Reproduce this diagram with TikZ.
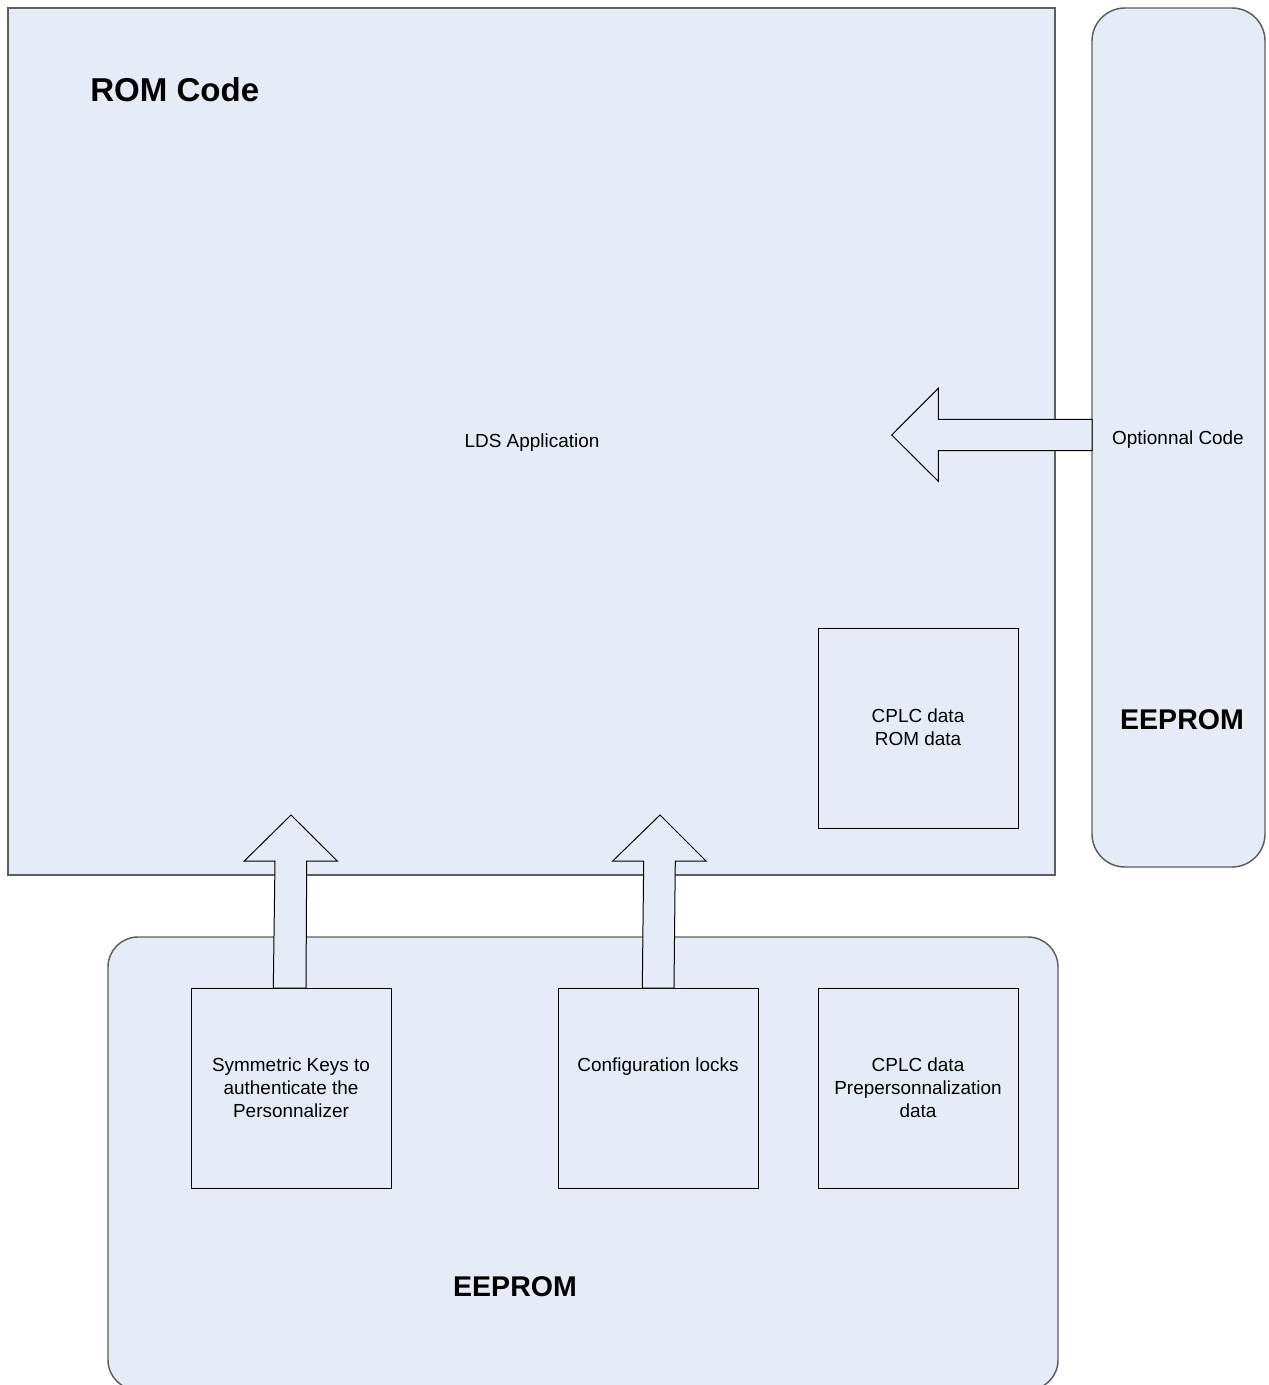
\documentclass[tikz,border=0pt]{standalone}
\usepackage{fontspec}
\setmainfont{Liberation Sans}
\definecolor{lightfill}{HTML}{E6ECF7}
\definecolor{boxgray}{HTML}{5E5E5E}
\begin{document}
\begin{tikzpicture}[x=0.75pt,y=-0.75pt,
  bigbox/.style={draw=boxgray, fill=lightfill, line width=1.1pt, inner sep=0pt},
  smallbox/.style={draw=black, fill=lightfill, line width=0.75pt, inner sep=0pt, minimum width=150pt, minimum height=150pt},
  blockarrow/.style={draw=black, fill=lightfill, line width=0.75pt, line join=miter},
  lbl/.style={font=\fontsize{14.2}{17.25}\selectfont, align=center, inner sep=0pt},
  titletext/.style={font=\fontsize{24.8}{29}\selectfont\bfseries, inner sep=0pt},
  eetext/.style={font=\fontsize{21.4}{25}\selectfont\bfseries, inner sep=0pt}]
\useasboundingbox (0,0) rectangle (1269,1385);
\clip (0,0) rectangle (1269,1385);
% main boxes
\node[bigbox, minimum width=785.25pt, minimum height=650.25pt] (rom) at (531.5,441.5) {};
\node[bigbox, rounded corners=24.75pt, minimum width=129.75pt, minimum height=644.25pt] (eeright) at (1178.5,437.5) {};
\node[bigbox, rounded corners=22.5pt, minimum width=712.5pt, minimum height=339.75pt] (eebottom) at (583,1163.5) {};
% small boxes
\node[smallbox] (cplcrom) at (918,728) {};
\node[smallbox] (sym) at (291,1088) {};
\node[smallbox] (conf) at (658,1088) {};
\node[smallbox] (cplcpre) at (918,1088) {};
% block arrows
\draw[blockarrow] (1092,419.3) -- (938.3,419.3) -- (938.3,388.3) -- (891.7,435) -- (938.3,481.3) -- (938.3,450.7) -- (1092,450.7) -- cycle;
\draw[blockarrow] (273.3,988) -- (275,861) -- (244.3,861) -- (291,815) -- (337.3,861) -- (306.7,861) -- (306,988) -- cycle;
\draw[blockarrow] (642.3,988) -- (643.7,861) -- (612.7,861) -- (660,815) -- (706,861) -- (675.3,861) -- (674,988) -- cycle;
% texts
\node[titletext, anchor=west] (romtitle) at (90,90) {ROM Code};
\node[lbl] (lds) at (532,443) {LDS Application};
\node[lbl] (optcode) at (1178,440) {Optionnal Code};
\node[eetext] (eerighttitle) at (1182,720) {EEPROM};
\node[lbl] (cplcromtext) at (918,727.5) {CPLC data\\ROM data};
\node[lbl] (symtext) at (291,1088) {Symmetric Keys to\\authenticate the\\Personnalizer};
\node[lbl] (conftext) at (658,1067) {Configuration locks};
\node[lbl] (cplcpretext) at (918,1088) {CPLC data\\Prepersonnalization\\data};
\node[eetext] (eebottomtitle) at (515,1287) {EEPROM};
\end{tikzpicture}
\end{document}
